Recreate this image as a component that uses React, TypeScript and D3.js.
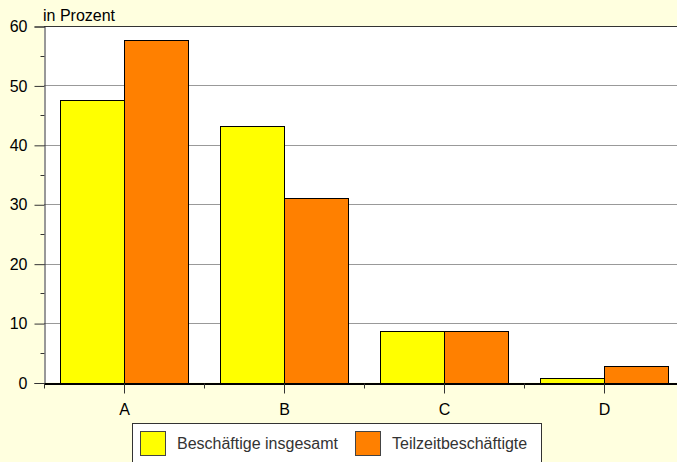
import * as d3 from "d3";
import React, { useEffect, useRef } from "react";

const categories = ["A", "B", "C", "D"];
const seriesNames = ["Beschäftige insgesamt", "Teilzeitbeschäftigte"];
const insgesamt = [47.5, 43.2, 8.7, 0.8];
const teilzeit = [57.6, 31.0, 8.7, 2.8];
const yTicks = [0, 10, 20, 30, 40, 50, 60];
const colors = ["#FFFF00", "#FF8000"];

const App = () => {
  const ref = useRef<SVGSVGElement>(null);

  useEffect(() => {
    const width = 677;
    const height = 462;
    const m = { top: 26, left: 44, bottom: 80 };

    const svg = d3.select(ref.current);
    svg.selectAll("*").remove();

    svg.append("rect").attr("width", width).attr("height", height).attr("fill", "#FFFFDF");

    // Scales
    const x = d3.scaleBand().domain(categories).range([m.left, m.left + 640]).paddingInner(0).paddingOuter(0);
    const y = d3.scaleLinear().domain([0, 60]).range([382.5, m.top]);
    const x1 = d3.scaleBand().domain(["0", "1"]).range([16, 144]);

    // plot area
    svg.append("rect")
      .attr("x", m.left)
      .attr("y", y(60))
      .attr("width", width - m.left)
      .attr("height", y(0) - y(60))
      .attr("fill", "#fff");

    // grid
    svg.selectAll(".grid")
      .data(yTicks.slice(1, -1))
      .join("line")
      .attr("x1", m.left)
      .attr("x2", width)
      .attr("y1", (d) => Math.round(y(d)) + 0.5)
      .attr("y2", (d) => Math.round(y(d)) + 0.5)
      .attr("stroke", "#999")
      .attr("stroke-width", 1);

    // bars
    const series = [insgesamt, teilzeit];
    series.forEach((vals, s) => {
      svg.append("g")
        .selectAll("rect")
        .data(vals)
        .join("rect")
        .attr("x", (d, i) => Math.round((x(categories[i]) as number) + (x1(String(s)) as number)) + 0.5)
        .attr("y", (d) => Math.round(y(d)) + 0.5)
        .attr("width", x1.bandwidth())
        .attr("height", (d) => Math.round(y(0)) - Math.round(y(d)))
        .attr("fill", colors[s])
        .attr("stroke", "#000")
        .attr("stroke-width", 1);
    });

    const axisColor = "#333";

    // top border
    svg.append("line")
      .attr("x1", m.left).attr("x2", width)
      .attr("y1", Math.round(y(60)) + 0.5).attr("y2", Math.round(y(60)) + 0.5)
      .attr("stroke", axisColor);

    // y axis
    const yAxis = d3.axisLeft(y).tickValues(yTicks).tickSize(10).tickFormat(d3.format("d"));
    const gy = svg.append("g").attr("transform", `translate(${m.left + 0.5},0.5)`).call(yAxis);
    gy.select(".domain").attr("stroke", axisColor);
    gy.selectAll(".tick line").attr("stroke", axisColor);
    gy.selectAll(".tick text")
      .attr("x", -17)
      .attr("fill", "#000")
      .style("font-family", "'Liberation Sans', Arial, sans-serif")
      .style("font-size", "16px");
    gy.selectAll(".minor")
      .data(d3.range(5, 60, 10))
      .join("line")
      .attr("class", "minor")
      .attr("x1", -4).attr("x2", 0)
      .attr("y1", (d) => Math.round(y(d)))
      .attr("y2", (d) => Math.round(y(d)))
      .attr("stroke", axisColor);

    // x axis
    const xAxis = d3.axisBottom(x).tickSize(10).tickSizeOuter(0);
    const gx = svg.append("g").attr("transform", `translate(0.5,${Math.round(y(0)) + 0.5})`).call(xAxis);
    gx.select(".domain").attr("stroke", "#000").attr("stroke-width", 2);
    gx.selectAll(".tick line").attr("stroke", axisColor);
    gx.selectAll(".tick text")
      .attr("y", 20)
      .attr("fill", "#000")
      .style("font-family", "'Liberation Sans', Arial, sans-serif")
      .style("font-size", "16px");
    gx.selectAll(".bound")
      .data(categories)
      .join("line")
      .attr("class", "bound")
      .attr("x1", (d) => Math.round(x(d) as number))
      .attr("x2", (d) => Math.round(x(d) as number))
      .attr("y1", 0).attr("y2", 5)
      .attr("stroke", axisColor);

    // unit label
    svg.append("text")
      .attr("x", m.left - 1)
      .attr("y", 21)
      .style("font-family", "'Liberation Sans', Arial, sans-serif")
      .style("font-size", "16px")
      .text("in Prozent");

    // legend
    const lg = svg.append("g");
    lg.append("rect")
      .attr("x", 132.5).attr("y", 423.5)
      .attr("width", 409).attr("height", 50)
      .attr("fill", "#fff").attr("stroke", "#333");
    const lx = [140, 355];
    seriesNames.forEach((name, i) => {
      lg.append("rect")
        .attr("x", lx[i] + 0.5).attr("y", 431.5)
        .attr("width", 25).attr("height", 24)
        .attr("fill", colors[i]).attr("stroke", "#444");
      lg.append("text")
        .attr("x", lx[i] + 37).attr("y", 449)
        .attr("fill", "#333")
        .style("font-family", "'Liberation Sans', Arial, sans-serif")
        .style("font-size", "16px")
        .text(name);
    });
  }, []);

  return <svg ref={ref} width={677} height={462} style={{ display: "block", position: "absolute", left: 0, top: 0 }} />;
};

export default App;
